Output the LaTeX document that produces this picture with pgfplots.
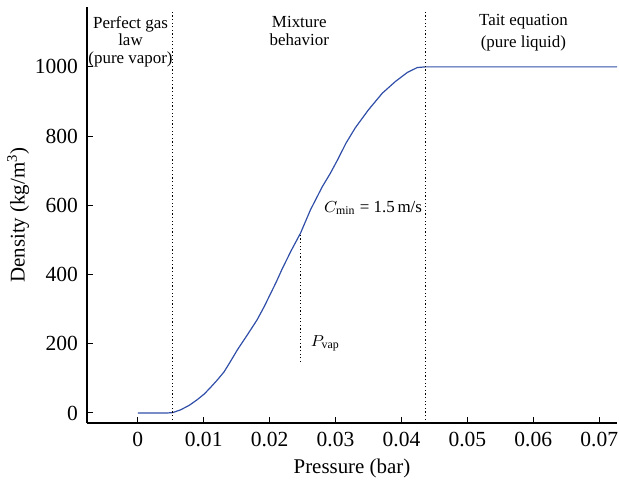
\documentclass[border=0pt]{standalone}
\usepackage{pgfplots}
\pgfplotsset{compat=1.18}
\usepackage{fontspec}
\setmainfont{Liberation Serif}
\definecolor{curve}{RGB}{48,78,168}
\begin{document}
\begin{tikzpicture}
\begin{axis}[
  name=ax,
  scale only axis,
  width=265bp, height=208bp,
  xmin=-0.0077, xmax=0.0727,
  ymin=-29, ymax=1173,
  axis x line*=bottom, axis y line*=left,
  axis line style={line width=0.6pt},
  tick align=inside,
  major tick length=3bp,
  tick style={black, line width=0.5pt},
  xtick={0,0.01,0.02,0.03,0.04,0.05,0.06,0.07},
  ytick={0,200,400,600,800,1000},
  scaled x ticks=false,
  xticklabel style={/pgf/number format/fixed,/pgf/number format/precision=2, yshift=-1bp},
  yticklabel style={/pgf/number format/1000 sep={}, xshift=-1bp},
  /pgf/number format/assume math mode=true,
  tick label style={font=\fontsize{10.8}{12}\selectfont},
  label style={font=\fontsize{10.5}{12}\selectfont},
  xlabel={Pressure (bar)},
  ylabel={Density (kg/m\textsuperscript{3})},
  xlabel style={at={(axis description cs:0.5,0)}, anchor=center, yshift=-22.5bp},
  ylabel style={yshift=-4bp},
  clip=false,
]
\addplot[color=curve, line width=0.6pt] coordinates {
(0,0) (0.0045,0) (0.0053,1) (0.0065,9) (0.0078,22) (0.009,38) (0.0101,55) (0.0111,75)
(0.0121,96) (0.0131,119) (0.0141,150) (0.0151,182) (0.0166,225) (0.0181,269) (0.0192,308) (0.0202,347)
(0.0210,378) (0.0219,416) (0.0233,470) (0.0247,520) (0.0262,587) (0.0280,654) (0.0292,692)
(0.0303,731) (0.0316,780) (0.0330,824) (0.0350,876) (0.0371,924) (0.0391,958) (0.0409,984)
(0.0424,998) (0.0436,1000) (0.0727,1000)
};
\addplot[black, line width=0.5pt, dash pattern=on 0.6bp off 1.2bp] coordinates {(0.0053,-20) (0.0053,1162)};
\addplot[black, line width=0.5pt, dash pattern=on 0.6bp off 1.2bp] coordinates {(0.0436,-20) (0.0436,1162)};
\addplot[black, line width=0.5pt, dash pattern=on 0.6bp off 1.2bp] coordinates {(0.0247,147) (0.0247,520)};
\node[align=center, font=\fontsize{8.5}{9}\selectfont, anchor=north] at (axis cs:-0.0011,1167) {Perfect gas\\law\\(pure vapor)};
\node[align=center, font=\fontsize{8.5}{9}\selectfont, anchor=north] at (axis cs:0.0245,1167) {Mixture\\behavior};
\node[align=center, font=\fontsize{8.5}{11}\selectfont, anchor=north] at (axis cs:0.0585,1173) {Tait equation\\(pure liquid)};
\node[anchor=west, font=\fontsize{8.5}{10}\selectfont, inner sep=0pt] at (axis cs:0.0282,592) {$C_{\mathrm{min}}$ = 1.5\,m/s};
\node[anchor=west, font=\fontsize{8.5}{10}\selectfont, inner sep=0pt] at (axis cs:0.0262,202) {$P_{\mathrm{vap}}$};
\end{axis}
\pgfresetboundingbox
\path ([shift={(-43.5bp,-32bp)}]ax.south west) rectangle ([shift={(1bp,3.5bp)}]ax.north east);
\end{tikzpicture}
\end{document}
